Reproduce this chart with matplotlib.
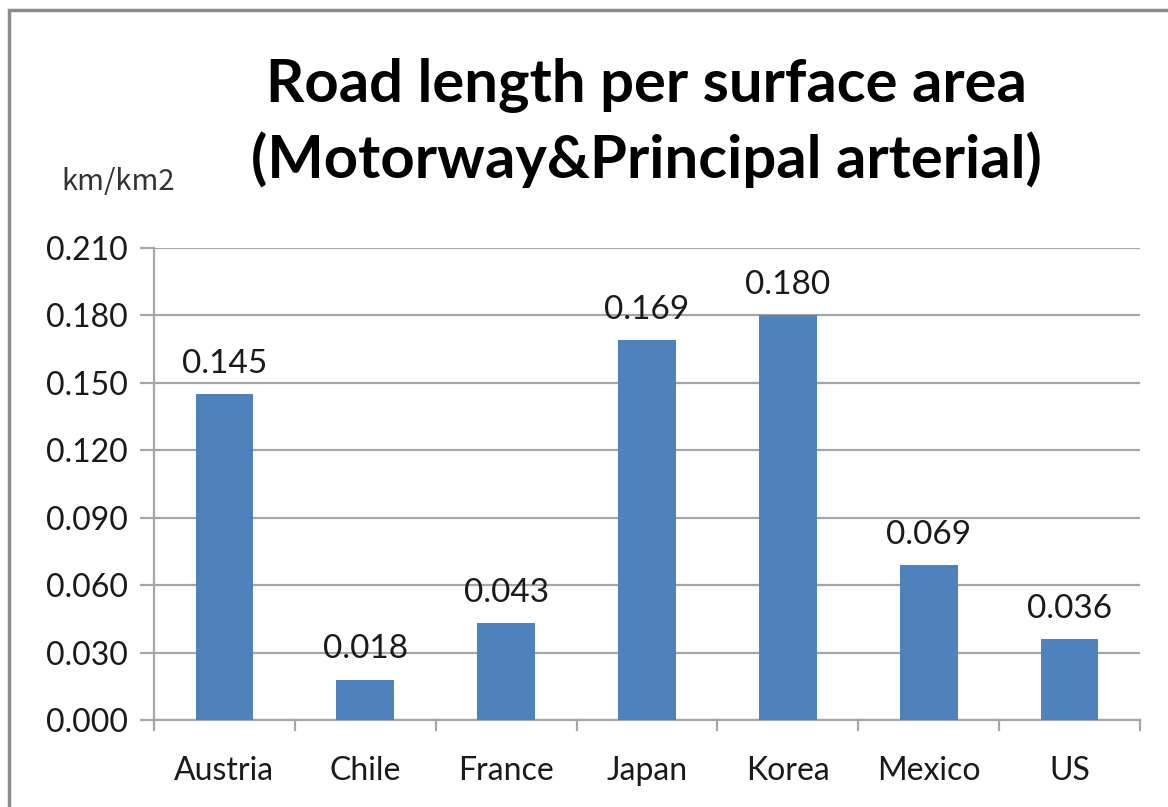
import matplotlib
matplotlib.use("Agg")
import matplotlib.pyplot as plt
from matplotlib.patches import Rectangle

countries = ["Austria", "Chile", "France", "Japan", "Korea", "Mexico", "US"]
road_density = [0.145, 0.018, 0.043, 0.169, 0.180, 0.069, 0.036]
y_ticks = [0.000, 0.030, 0.060, 0.090, 0.120, 0.150, 0.180, 0.210]

BAR_COLOR = "#4F81BD"
GRID_COLOR = "#A6A6A6"
FONT = ["Lato", "DejaVu Sans"]

fig = plt.figure(figsize=(11.68, 8.07), dpi=100)
fig.patch.set_facecolor("white")

# outer chart-area frame
fig.patches.append(Rectangle((9 / 1168, -0.05), 1.2, 1 - 10 / 807 + 0.05,
                             transform=fig.transFigure, fill=False,
                             edgecolor="#8C8C8C", linewidth=2.5))

ax = fig.add_axes([154 / 1168, 1 - 720 / 807, (1140 - 154) / 1168, (720 - 248) / 807])

x = list(range(len(countries)))
bars = ax.bar(x, road_density, width=0.41, color=BAR_COLOR, zorder=3)

ax.set_xlim(-0.5, len(countries) - 0.5)
ax.set_ylim(0, 0.210)
ax.set_yticks(y_ticks)
ax.set_yticklabels([f"{v:.3f}" for v in y_ticks], fontsize=23, family=FONT, color="#1a1a1a")
ax.yaxis.grid(True, color=GRID_COLOR, linewidth=1.6, zorder=0)

ax.set_xticks(x)
ax.set_xticklabels(countries, fontsize=23, family=FONT, color="#1a1a1a")
ax.tick_params(axis="x", length=0, pad=26)
ax.tick_params(axis="y", length=10, width=1.6, color=GRID_COLOR, pad=9)

# category boundary ticks on the x axis
for b in [i - 0.5 for i in range(len(countries) + 1)]:
    ax.plot([b, b], [0, -0.0045], color=GRID_COLOR, linewidth=1.6, clip_on=False, zorder=2)

for s in ["top", "right"]:
    ax.spines[s].set_visible(False)
for s in ["left", "bottom"]:
    ax.spines[s].set_color(GRID_COLOR)
    ax.spines[s].set_linewidth(1.6)

for rect, v in zip(bars, road_density):
    ax.text(rect.get_x() + rect.get_width() / 2, v + 0.0068, f"{v:.3f}",
            ha="center", va="bottom", fontsize=24, family=FONT, color="#1a1a1a")

fig.text(646 / 1168, 1 - 123 / 807, "Road length per surface area\n(Motorway&Principal arterial)",
         ha="center", va="center", fontsize=43, fontweight="bold", family=FONT,
         linespacing=1.38, color="black")

fig.text(118 / 1168, 1 - 182 / 807, "km/km2", ha="center", va="center",
         fontsize=21, family=["Noto Sans CJK JP", "DejaVu Sans"], color="#333333")

fig.savefig("out.png", dpi=100)
